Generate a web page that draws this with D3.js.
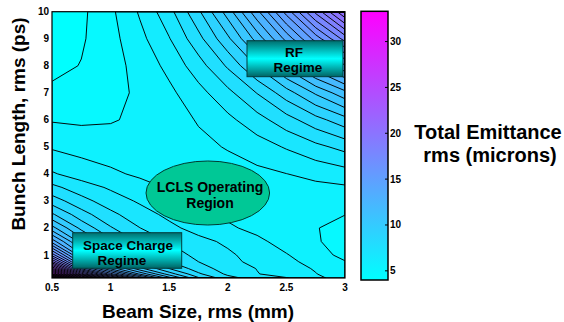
<!DOCTYPE html>
<html>
<head>
<meta charset="utf-8">
<script src="https://cdn.jsdelivr.net/npm/d3@7"></script>
<style>
  body { margin: 0; background: #fff; }
  text { font-family: "Liberation Sans", Arial, sans-serif; font-weight: bold; fill: #000; }
</style>
</head>
<body>
<div id="chart"></div>
<script>
// grid: columns = beam size (mm), rows = bunch length (ps)
var beamSize = [0.5, 0.75, 1, 1.25, 1.5, 1.75, 2, 2.25, 2.5, 2.75, 3];
var bunchLength = [0.15, 0.3, 0.5, 0.75, 1, 1.5, 2, 2.5, 3, 3.5, 4, 5, 6, 7, 8, 9, 10];
// total emittance (microns), one row per bunch length
var emittance = [
  [33.30, 25.00, 19.50, 15.00, 11.60, 9.20, 7.90, 7.32, 6.96, 6.44, 5.72],
  [27.80, 20.50, 16.00, 12.60, 10.20, 8.50, 7.50, 6.95, 6.62, 6.22, 5.66],
  [23.90, 17.00, 13.30, 10.80, 9.10, 8.00, 7.30, 6.90, 6.53, 6.12, 5.59],
  [20.20, 14.50, 11.50, 9.50, 8.40, 7.65, 7.12, 6.72, 6.35, 5.97, 5.50],
  [17.60, 12.90, 10.40, 8.85, 8.02, 7.45, 7.05, 6.61, 6.23, 5.80, 5.23],
  [13.90, 10.96, 9.32, 8.26, 7.61, 7.14, 6.78, 6.34, 5.93, 5.53, 5.16],
  [11.55, 9.63, 8.45, 7.66, 7.10, 6.65, 6.29, 6.01, 5.73, 5.49, 5.25],
  [9.95, 8.68, 7.83, 7.22, 6.75, 6.33, 6.07, 5.88, 5.72, 5.60, 5.47],
  [8.75, 7.90, 7.28, 6.82, 6.41, 6.11, 5.96, 5.88, 5.85, 5.85, 5.85],
  [7.85, 7.26, 6.82, 6.43, 6.13, 5.97, 5.91, 5.89, 5.95, 6.02, 6.10],
  [7.00, 6.59, 6.31, 6.08, 5.93, 5.86, 5.89, 6.01, 6.18, 6.39, 6.60],
  [6.10, 5.92, 5.83, 5.82, 5.86, 6.01, 6.24, 6.58, 6.99, 7.45, 7.89],
  [5.40, 5.34, 5.40, 5.60, 5.85, 6.25, 6.74, 7.36, 8.08, 8.84, 9.57],
  [4.90, 5.00, 5.23, 5.59, 6.03, 6.67, 7.45, 8.41, 9.51, 10.68, 11.79],
  [4.50, 4.76, 5.16, 5.73, 6.39, 7.33, 8.49, 9.91, 11.52, 13.22, 14.86],
  [4.25, 4.64, 5.21, 5.98, 6.88, 8.14, 9.68, 11.59, 13.73, 16.00, 18.18],
  [4.05, 4.57, 5.30, 6.28, 7.40, 8.98, 10.91, 13.29, 15.97, 18.79, 21.52]
];
var xTicks = [0.5, 1, 1.5, 2, 2.5, 3];
var yTicks = [1, 2, 3, 4, 5, 6, 7, 8, 9, 10];
var cbarTicks = [5, 10, 15, 20, 25, 30];
var cbarRange = [4.0, 33.3];
var contourStep = 0.73;

var width = 564, height = 322;
var plot = {left: 52, right: 345, top: 11.7, bottom: 278};

var svg = d3.select("#chart").append("svg")
    .attr("width", width)
    .attr("height", height);

var x = d3.scaleLinear().domain([0.5, 3]).range([plot.left, plot.right]);
var y = d3.scaleLinear().domain([0.15, 10]).range([plot.bottom, plot.top]);
var color = d3.scaleSequential(d3.interpolateRgb("#00ffff", "#ff00ff")).domain(cbarRange);

var defs = svg.append("defs");
defs.append("clipPath").attr("id", "plotClip")
  .append("rect")
    .attr("x", plot.left).attr("y", plot.top)
    .attr("width", plot.right - plot.left).attr("height", plot.bottom - plot.top);

var boxGrad = defs.append("linearGradient").attr("id", "boxGrad")
    .attr("x1", 0).attr("y1", 0).attr("x2", 0).attr("y2", 1);
boxGrad.append("stop").attr("offset", "0%").attr("stop-color", "#006e6e");
boxGrad.append("stop").attr("offset", "50%").attr("stop-color", "#00ffff");
boxGrad.append("stop").attr("offset", "100%").attr("stop-color", "#006464");

var cbarGrad = defs.append("linearGradient").attr("id", "cbarGrad")
    .attr("x1", 0).attr("y1", 1).attr("x2", 0).attr("y2", 0);
cbarGrad.append("stop").attr("offset", "0%").attr("stop-color", color(cbarRange[0]));
cbarGrad.append("stop").attr("offset", "100%").attr("stop-color", color(cbarRange[1]));

// contours
var nx = beamSize.length, ny = bunchLength.length;
var values = [];
emittance.forEach(function(row) { row.forEach(function(v) { values.push(v); }); });

var levels = d3.range(cbarRange[0], cbarRange[1], contourStep);
var contours = d3.contours().size([nx, ny]).thresholds(levels)(values);

// grid coords -> data values (grid samples sit at cell centres)
function gridToValue(arr, c) {
  c = Math.max(0, Math.min(arr.length - 1, c - 0.5));
  var i = Math.min(Math.floor(c), arr.length - 2), t = c - i;
  return arr[i] + t * (arr[i + 1] - arr[i]);
}
var path = d3.geoPath(d3.geoTransform({
  point: function(px, py) {
    this.stream.point(x(gridToValue(beamSize, px)), y(gridToValue(bunchLength, py)));
  }
}));

var map = svg.append("g").attr("clip-path", "url(#plotClip)");
map.append("g").selectAll("path")
    .data(contours)
  .enter().append("path")
    .attr("d", path)
    .attr("fill", function(d) { return color(d.value); });
map.append("g").selectAll("path")
    .data(contours.slice(1))
  .enter().append("path")
    .attr("d", path)
    .attr("fill", "none")
    .attr("stroke", "#000")
    .attr("stroke-width", 0.95);

svg.append("rect")
    .attr("x", plot.left).attr("y", plot.top)
    .attr("width", plot.right - plot.left).attr("height", plot.bottom - plot.top)
    .attr("fill", "none").attr("stroke", "#000").attr("stroke-width", 1.2);

// tick labels
svg.append("g").selectAll("text")
    .data(xTicks)
  .enter().append("text")
    .attr("x", function(d) { return x(d); })
    .attr("y", 291)
    .attr("text-anchor", "middle")
    .style("font-size", "10px")
    .text(function(d) { return d; });

svg.append("g").selectAll("text")
    .data(yTicks)
  .enter().append("text")
    .attr("x", 49)
    .attr("y", function(d) { return y(d); })
    .attr("dy", "0.35em")
    .attr("text-anchor", "end")
    .style("font-size", "10px")
    .text(function(d) { return d; });

svg.append("text")
    .attr("x", 198).attr("y", 318)
    .attr("text-anchor", "middle")
    .style("font-size", "19px")
    .text("Beam Size, rms (mm)");

svg.append("text")
    .attr("transform", "translate(25,124) rotate(-90)")
    .attr("text-anchor", "middle")
    .style("font-size", "19px")
    .text("Bunch Length, rms (ps)");

// region labels
function regionBox(x0, y0, x1, y1, lines, cx, baselines) {
  svg.append("rect")
      .attr("x", x0).attr("y", y0)
      .attr("width", x1 - x0).attr("height", y1 - y0)
      .attr("fill", "url(#boxGrad)")
      .attr("stroke", "#003c3c").attr("stroke-width", 1);
  lines.forEach(function(s, i) {
    svg.append("text")
        .attr("x", cx[i]).attr("y", baselines[i])
        .attr("text-anchor", "middle")
        .style("font-size", "13.5px")
        .text(s);
  });
}
regionBox(247, 40.7, 343, 76.7, ["RF", "Regime"], [294, 298], [56.5, 71.5]);
regionBox(72.7, 232.7, 181.7, 268.3, ["Space Charge", "Regime"], [128, 122], [250, 264.5]);

svg.append("ellipse")
    .attr("cx", 207.8).attr("cy", 193)
    .attr("rx", 61.8).attr("ry", 32)
    .attr("fill", "#00c896")
    .attr("stroke", "#003c30").attr("stroke-width", 1);
svg.append("text")
    .attr("x", 210).attr("y", 191.5)
    .attr("text-anchor", "middle")
    .style("font-size", "14px")
    .text("LCLS Operating");
svg.append("text")
    .attr("x", 210).attr("y", 208)
    .attr("text-anchor", "middle")
    .style("font-size", "14px")
    .text("Region");

// colorbar
var cb = {left: 361, right: 388, top: 11.3, bottom: 280};
var cy = d3.scaleLinear().domain(cbarRange).range([cb.bottom, cb.top]);
svg.append("rect")
    .attr("x", cb.left).attr("y", cb.top)
    .attr("width", cb.right - cb.left).attr("height", cb.bottom - cb.top)
    .attr("fill", "url(#cbarGrad)")
    .attr("stroke", "#000").attr("stroke-width", 1.5);

var cbt = svg.append("g").selectAll("g")
    .data(cbarTicks)
  .enter().append("g")
    .attr("transform", function(d) { return "translate(0," + cy(d) + ")"; });
cbt.append("line")
    .attr("x1", cb.right - 3).attr("x2", cb.right)
    .attr("stroke", "#000").attr("stroke-width", 1);
cbt.append("text")
    .attr("x", cb.right + 2)
    .attr("dy", "0.35em")
    .style("font-size", "10px")
    .text(function(d) { return d; });

svg.append("text")
    .attr("x", 488).attr("y", 139)
    .attr("text-anchor", "middle")
    .style("font-size", "20px")
    .text("Total Emittance");
svg.append("text")
    .attr("x", 490).attr("y", 162)
    .attr("text-anchor", "middle")
    .style("font-size", "20px")
    .text("rms (microns)");
</script>
</body>
</html>
